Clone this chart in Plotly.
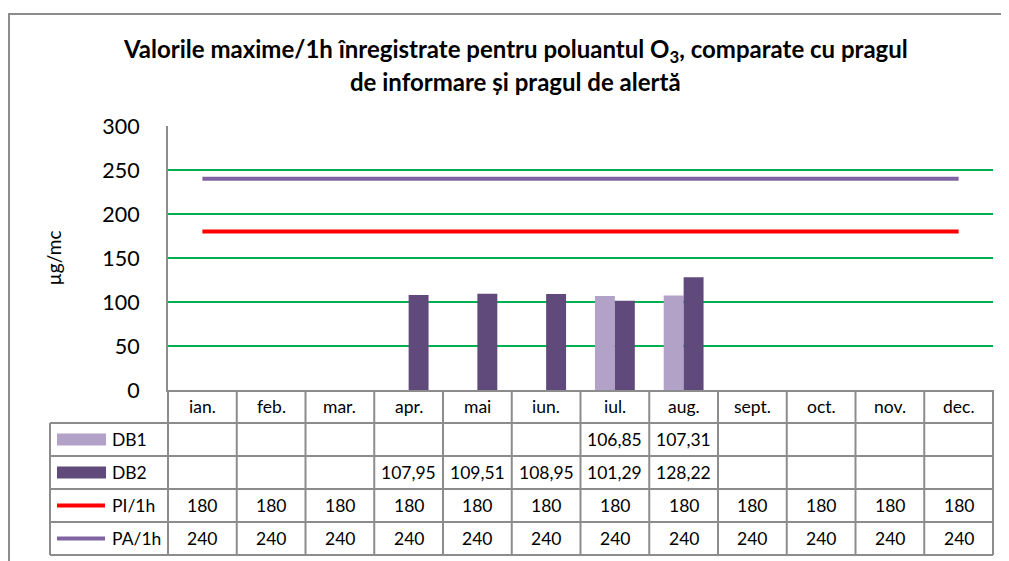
import plotly.graph_objects as go

months = ["ian.", "feb.", "mar.", "apr.", "mai", "iun.", "iul.", "aug.", "sept.", "oct.", "nov.", "dec."]
db1 = [None, None, None, None, None, None, 106.85, 107.31, None, None, None, None]
db2 = [None, None, None, 107.95, 109.51, 108.95, 101.29, 128.22, None, None, None, None]
pi_1h = [180] * 12
pa_1h = [240] * 12
series_names = ["DB1", "DB2", "PI/1h", "PA/1h"]
y_ticks = [0, 50, 100, 150, 200, 250, 300]

C_DB1 = "#B3A2C7"
C_DB2 = "#604A7B"
C_PI = "#FF0000"
C_PA = "#8064A2"
GRID = "#00B050"
LINEC = "#8C8C8C"
FONT = "Lato"

W, H = 1009, 561
OFF = 8  # page body margin
# plot area in screen pixels
L, R, T, B = 168, 993, 126, 390
pw, ph = R - L, B - T

def px_x(p):
    return (p - L) / pw

def px_y(p):
    return (B - p) / ph

x = list(range(len(months)))
fig = go.Figure()
fig.add_trace(go.Bar(x=x, y=db1, name="DB1", marker=dict(color=C_DB1, line=dict(width=0))))
fig.add_trace(go.Bar(x=x, y=db2, name="DB2", marker=dict(color=C_DB2, line=dict(width=0))))
fig.add_trace(go.Scatter(x=x, y=pi_1h, name="PI/1h", mode="lines", line=dict(color=C_PI, width=4)))
fig.add_trace(go.Scatter(x=x, y=pa_1h, name="PA/1h", mode="lines", line=dict(color=C_PA, width=4)))

shapes = []
ann = []
# outer border (left + top visible)
shapes.append(dict(type="line", xref="paper", yref="paper", x0=px_x(9), x1=px_x(9), y0=px_y(14), y1=px_y(620),
                   line=dict(color="#8C8C8C", width=2), layer="below"))
shapes.append(dict(type="line", xref="paper", yref="paper", x0=px_x(8), x1=px_x(1030), y0=px_y(14), y1=px_y(14),
                   line=dict(color="#8C8C8C", width=2), layer="below"))

rows = [390, 423, 456, 489, 522, 555]
colw = pw / 12
for ry in rows[1:]:
    shapes.append(dict(type="line", xref="paper", yref="paper", x0=px_x(50), x1=px_x(R), y0=px_y(ry), y1=px_y(ry),
                       line=dict(color=LINEC, width=2)))
for k in range(13):
    xp = L + k * colw
    shapes.append(dict(type="line", xref="paper", yref="paper", x0=px_x(xp), x1=px_x(xp), y0=px_y(390), y1=px_y(555),
                       line=dict(color=LINEC, width=2)))
shapes.append(dict(type="line", xref="paper", yref="paper", x0=px_x(50), x1=px_x(50), y0=px_y(423), y1=px_y(555),
                   line=dict(color=LINEC, width=2)))

def fmt(v):
    if v is None:
        return ""
    if float(v).is_integer():
        return str(int(v))
    return f"{v:.2f}".replace(".", ",")

TS = 17.5
for i, m in enumerate(months):
    ann.append(dict(x=i, xref="x", y=px_y((390 + 423) / 2), yref="paper", text=m, showarrow=False,
                    font=dict(family=FONT, size=TS, color="#000"), xanchor="center", yanchor="middle"))
data_rows = [db1, db2, pi_1h, pa_1h]
for r, vals in enumerate(data_rows):
    yc = (rows[r + 1] + rows[r + 2]) / 2
    for i, v in enumerate(vals):
        t = fmt(v)
        if t:
            ann.append(dict(x=i, xref="x", y=px_y(yc), yref="paper", text=t, showarrow=False,
                            font=dict(family=FONT, size=TS, color="#000"), xanchor="center", yanchor="middle"))
    ann.append(dict(x=px_x(110), xref="paper", y=px_y(yc), yref="paper", text=series_names[r], showarrow=False,
                    font=dict(family=FONT, size=TS, color="#000"), xanchor="left", yanchor="middle"))
    if r < 2:
        shapes.append(dict(type="rect", xref="paper", yref="paper", x0=px_x(57), x1=px_x(106),
                           y0=px_y(yc - 6), y1=px_y(yc + 6), fillcolor=[C_DB1, C_DB2][r], line=dict(width=0)))
    else:
        shapes.append(dict(type="line", xref="paper", yref="paper", x0=px_x(57), x1=px_x(105),
                           y0=px_y(yc), y1=px_y(yc), line=dict(color=[C_PI, C_PA][r - 2], width=4)))

ann.append(dict(x=px_x(515), xref="paper", y=px_y(51), yref="paper",
                text="<b>Valorile maxime/1h înregistrate pentru poluantul O<sub>3</sub>, comparate cu pragul</b>",
                showarrow=False, font=dict(family=FONT, size=24, color="#000"), xanchor="center", yanchor="middle"))
ann.append(dict(x=px_x(515), xref="paper", y=px_y(82), yref="paper",
                text="<b>de informare și pragul de alertă</b>",
                showarrow=False, font=dict(family=FONT, size=24, color="#000"), xanchor="center", yanchor="middle"))

fig.update_layout(
    width=W, height=H,
    margin=dict(l=L - OFF, r=W - (R - OFF), t=T - OFF, b=H - (B - OFF), pad=0),
    paper_bgcolor="white", plot_bgcolor="white",
    showlegend=False,
    barmode="group", bargap=0.42, bargroupgap=0,
    shapes=shapes, annotations=ann,
    font=dict(family=FONT, color="#000"),
)
fig.update_xaxes(range=[-0.5, 11.5], showticklabels=False, showgrid=False, zeroline=False,
                 showline=True, linecolor=LINEC, linewidth=2, ticks="")
fig.update_yaxes(range=[0, 300], tickvals=y_ticks, showgrid=True, gridcolor=GRID, gridwidth=1.5,
                 zeroline=False, showline=True, linecolor=LINEC, linewidth=2, ticks="",
                 tickfont=dict(family=FONT, size=21.5, color="#000"), ticklabelstandoff=22,
                 title=dict(text="µg/mc", font=dict(family=FONT, size=19, color="#000"), standoff=36))

fig.write_html("out.html")
